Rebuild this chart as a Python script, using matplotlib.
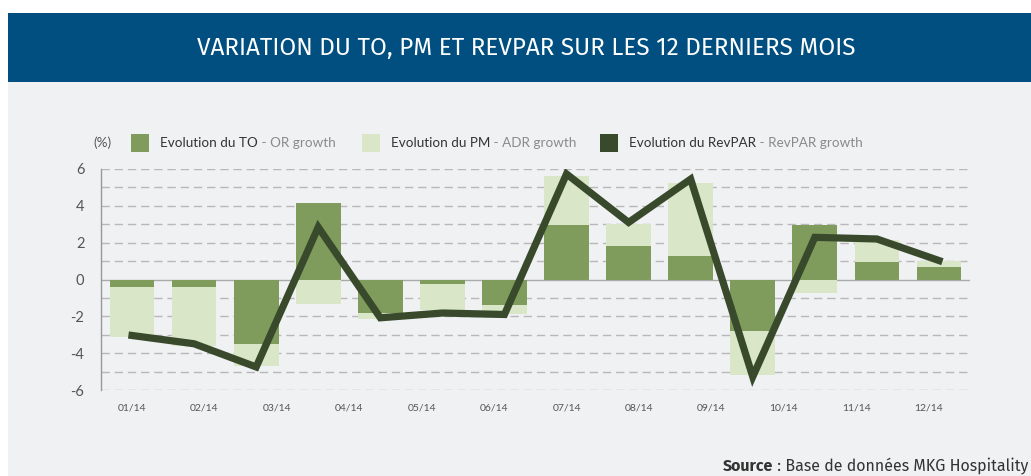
import numpy as np
import matplotlib
matplotlib.use("Agg")
import matplotlib.pyplot as plt
from matplotlib.patches import Rectangle

# --- data ---
month_labels = ["01/14", "02/14", "03/14", "04/14", "05/14", "06/14",
                "07/14", "08/14", "09/14", "10/14", "11/14", "12/14"]
to_growth = [-0.42, -0.42, -3.5, 4.16, -1.81, -0.22, -1.41,
             2.96, 1.84, 1.25, -2.82, 2.98, 0.96, 0.67]
pm_growth = [-2.71, -3.2, -1.22, -1.32, -0.32, -1.43, -0.49,
             2.64, 1.2, 4.0, -2.38, -0.72, 1.19, 0.31]
revpar_growth = [-3.04, -3.49, -4.75, 2.84, -2.08, -1.82, -1.9,
                 5.73, 3.1, 5.45, -5.28, 2.29, 2.2, 1.03]

C_TO = "#809c5c"
C_PM = "#d9e6c8"
C_REV = "#384a2b"
C_BG = "#f0f1f3"
C_BAND = "#004f80"

plt.rcParams['font.family'] = ['Lato', 'DejaVu Sans']

fig = plt.figure(figsize=(10.31, 4.76), dpi=100)
fig.patch.set_facecolor("white")

# header band + grey panel (behind the axes)
fig.patches.append(Rectangle((8 / 1031, 0), 1, 1 - 82 / 476, transform=fig.transFigure,
                             facecolor=C_BG, edgecolor="none", zorder=-5))
fig.patches.append(Rectangle((8 / 1031, 1 - 82 / 476), 1, 69 / 476, transform=fig.transFigure,
                             facecolor=C_BAND, edgecolor="none", zorder=-5))
fig.text(0.5105, 1 - 48 / 476, "VARIATION DU TO, PM ET REVPAR SUR LES 12 DERNIERS MOIS",
         color="white", fontsize=17.5, ha="center", va="center",
         family=["Fira Sans", "Open Sans", "DejaVu Sans"])

ax = fig.add_axes([101 / 1031, 1 - 390 / 476, 869 / 1031, 221 / 476])
ax.set_facecolor("none")

x = np.arange(len(to_growth))
to = np.array(to_growth)
pm = np.array(pm_growth)
# PM stacked on TO when both share the same sign, otherwise from zero
pm_bottom = np.where(np.sign(pm) == np.sign(to), to, 0)

ax.bar(x, pm, bottom=pm_bottom, width=0.72, color=C_PM, zorder=2)
ax.bar(x, to, width=0.72, color=C_TO, zorder=3)
ax.plot(x, revpar_growth, color=C_REV, lw=5.2, solid_joinstyle="miter", zorder=4)

ax.set_xlim(-0.5, len(to_growth) - 0.5)
ax.set_ylim(-6, 6)
for yv in range(-6, 7):
    if yv == 0:
        ax.axhline(0, color="#aaaaaa", lw=1, zorder=1)
    else:
        ax.axhline(yv, color="#b8b8b8", lw=1, ls=(0, (6, 3.5)), zorder=1)

ax.set_yticks(range(-6, 7, 2))
ax.set_yticklabels([str(v) for v in range(-6, 7, 2)])
label_pos = np.arange(len(month_labels)) * len(to_growth) / len(month_labels)
ax.set_xticks(label_pos)
ax.set_xticklabels(month_labels)
ax.tick_params(axis="y", length=0, pad=12, labelsize=10.5, labelcolor="#555555")
ax.tick_params(axis="x", length=0, pad=10, labelsize=7.5, labelcolor="#555555")
for s in ["top", "right", "bottom"]:
    ax.spines[s].set_visible(False)
ax.spines["left"].set_color("#999999")
ax.spines["left"].set_linewidth(1)

# legend row
ly = 1 - 143 / 476
fig.text(93 / 1031, ly, "(%)", fontsize=9.7, color="#555555", va="center")
legend_items = [
    (131, C_TO, "Evolution du TO", " - OR growth"),
    (362, C_PM, "Evolution du PM", " - ADR growth"),
    (600, C_REV, "Evolution du RevPAR", " - RevPAR growth"),
]
fig.canvas.draw()
renderer = fig.canvas.get_renderer()
for px, col, main, sub in legend_items:
    fig.patches.append(Rectangle((px / 1031, 1 - 152 / 476), 18 / 1031, 18 / 476,
                                 transform=fig.transFigure, facecolor=col, edgecolor="none"))
    t = fig.text((px + 29) / 1031, ly, main, fontsize=9.7, color="#333333", va="center")
    bb = t.get_window_extent(renderer)
    fig.text(bb.x1 / 1031, ly, sub, fontsize=9.7, color="#8a8a8a", va="center")

# source
ty = 1 - 466 / 476
src_font = ["Fira Sans", "Noto Sans", "DejaVu Sans"]
t2 = fig.text(1028 / 1031, ty, " : Base de données MKG Hospitality", fontsize=11.5,
              color="#333333", ha="right", va="center", family=src_font)
bb = t2.get_window_extent(renderer)
fig.text(bb.x0 / 1031, ty, "Source", fontsize=11.5, color="#333333", ha="right", va="center",
         fontweight="bold", family=src_font)

fig.savefig("out.png", dpi=100, facecolor=fig.get_facecolor())
